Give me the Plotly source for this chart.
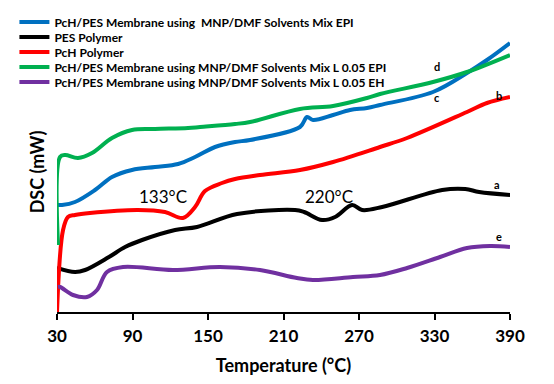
import plotly.graph_objects as go

# Temperature (°C) / DSC signal (arbitrary units) for each curve
names = [
    "PcH/PES Membrane using  MNP/DMF Solvents Mix EPI",
    "PES Polymer",
    "PcH Polymer",
    "PcH/PES Membrane using MNP/DMF Solvents Mix L 0.05 EPI",
    "PcH/PES Membrane using MNP/DMF Solvents Mix L 0.05 EH",
]
colors = ["#0070C0", "#000000", "#FF0000", "#00B050", "#7030A0"]

t_c = [30, 34, 44.3, 60.2, 73.7, 89.6, 107.9, 126.2, 139.7, 155.6, 171.5, 183.4, 223.1, 228.7, 233.5, 249.4, 262.9, 276.4, 286.7, 328.8, 355.8, 371.7, 390]
y_c = [107, 107, 110, 122, 135, 142, 145, 148, 155, 165, 170, 172, 185, 195, 192, 197, 202, 204, 207, 220, 239, 252, 269]

t_a = [30, 44.3, 52.3, 71.3, 84.1, 97.6, 123.8, 141.3, 173.1, 219.2, 226.4, 240.7, 251, 264.5, 272.5, 288.4, 336.1, 354.4, 365.5, 391]
y_a = [44, 40, 42, 55, 65, 72, 82, 85, 98, 102, 100, 92, 95, 107, 102, 105, 122, 123, 120, 117]

t_b = [30, 34.8, 38.7, 44.3, 56.2, 94.3, 115.8, 130.1, 139.7, 147.6, 161.1, 171.5, 191.3, 223.1, 249.4, 286.7, 308.2, 355.8, 371.7, 390]
y_b = [0, 82, 95, 97, 99, 102, 100, 94, 105, 121, 129, 133, 137, 142, 150, 165, 174, 200, 209, 215]

t_d = [30.8, 32.4, 36.4, 46.7, 57.8, 73.7, 89.6, 107.9, 134.1, 143.7, 171.5, 183.4, 223.1, 249.4, 276.4, 286.7, 328.8, 355.8, 390]
y_d = [67, 155, 157, 154, 159, 174, 182, 183, 184, 185, 188, 190, 203, 206, 214, 218, 230, 240, 257]

t_e = [30.8, 32.4, 42.7, 53.8, 61.8, 69.7, 82.5, 122.2, 159.5, 191.3, 220.7, 233.4, 265.2, 286.7, 308.2, 334.4, 355.8, 374.1, 390]
y_e = [25, 25, 17, 15, 22, 40, 45, 42, 45, 42, 34, 32, 35, 37, 44, 55, 64, 66, 65]

series_t = [t_c, t_a, t_b, t_d, t_e]
series_y = [y_c, y_a, y_b, y_d, y_e]

x_ticks = [30, 90, 150, 210, 270, 330, 390]

curve_labels = ["d", "c", "b", "a", "e"]
curve_label_t = [332, 332, 381, 380, 381]
curve_label_y = [246, 215, 217, 128, 76]

peak_labels = ["133°C", "220°C"]
peak_t = [114, 246]
peak_y = [116, 116]

FONT = "Lato"
fig = go.Figure()
legend_ys = [1.036, 0.982, 0.929, 0.875, 0.821]
for i in range(5):
    lg = "legend" if i == 0 else f"legend{i+1}"
    fig.add_trace(go.Scatter(
        x=series_t[i], y=series_y[i], mode="lines", name=names[i],
        line=dict(color=colors[i], width=4, shape="spline", smoothing=1.0),
        legend=lg, showlegend=True,
    ))

layout_legends = {}
for i in range(5):
    key = "legend" if i == 0 else f"legend{i+1}"
    layout_legends[key] = dict(
        x=-0.094, y=legend_ys[i], xanchor="left", yanchor="middle",
        bgcolor="rgba(0,0,0,0)", borderwidth=0, itemwidth=30,
        font=dict(family=FONT, size=12, color="#000", weight="bold"),
    )

for lab, tx, ty in zip(curve_labels, curve_label_t, curve_label_y):
    fig.add_annotation(x=tx, y=ty, text=lab, showarrow=False,
                       font=dict(family=FONT, size=11, color="#000", weight="bold"))
for lab, tx, ty in zip(peak_labels, peak_t, peak_y):
    fig.add_annotation(x=tx, y=ty, text=lab, showarrow=False,
                       font=dict(family=FONT, size=17, color="#000"))

# page body has an 8px margin, so the figure is 8px smaller and margins shifted
fig.update_layout(
    width=546, height=376,
    margin=dict(l=49, r=44, t=24, b=72, autoexpand=False),
    plot_bgcolor="white", paper_bgcolor="white",
    font=dict(family=FONT, color="#000"),
    **layout_legends,
    xaxis=dict(
        range=[30, 390], tickvals=x_ticks, ticktext=[str(v) for v in x_ticks],
        showgrid=False, zeroline=False, showline=True, linecolor="#000", linewidth=2,
        ticks="outside", ticklen=6, tickwidth=2, tickcolor="#000", automargin=False,
        ticklabelstandoff=2,
        tickfont=dict(family=FONT, size=17, color="#000", weight="bold"),
        title=dict(text="Temperature (°C)", standoff=14,
                   font=dict(family=FONT, size=18, color="#000", weight="bold")),
    ),
    yaxis=dict(
        range=[0, 280], showgrid=False, zeroline=False, showline=False,
        showticklabels=False, ticks="", automargin=False,
        title=dict(text="DSC (mW)", standoff=6,
                   font=dict(family=FONT, size=18, color="#000", weight="bold")),
    ),
)

fig.write_html("out.html")
